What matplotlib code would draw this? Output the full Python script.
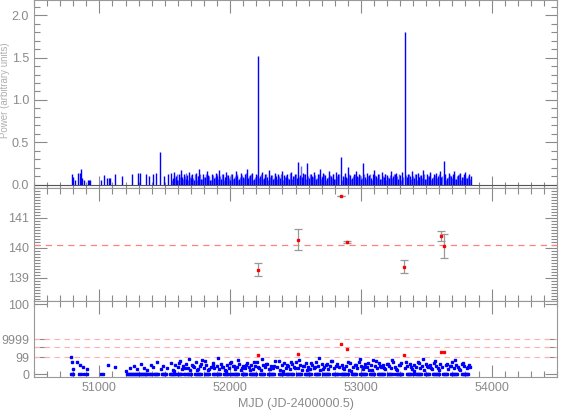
import matplotlib
matplotlib.use("Agg")
import matplotlib.pyplot as plt
from matplotlib.ticker import MultipleLocator, FixedLocator

plt.rcParams["font.family"] = ["Liberation Sans", "DejaVu Sans"]
plt.rcParams["font.size"] = 9

GREY = "#8a8a8a"
BLUE = "#0000ff"
LBLUE = "#6a6aff"
RED = "#ff0000"

# ---- top panel: amplitude per night (MJD, height) ----
bar_mjd = [50790, 50800, 50810, 50840, 50848, 50860, 50868, 50882, 50910, 50920,
           50930, 51015, 51038, 51062, 51070, 51085, 51120, 51175, 51250, 51295,
           51310, 51355, 51380, 51410, 51430, 51466, 51495, 51525, 51550, 51562,
           51574, 51585, 51597, 51610, 51622, 51633, 51646, 51660, 51672, 51684,
           51697, 51710, 51725, 51740, 51752, 51765, 51780, 51795, 51808, 51820,
           51834, 51848, 51862, 51876, 51890, 51903, 51917, 51930, 51944, 51958,
           51972, 51986, 52000, 52014, 52028, 52042, 52056, 52070, 52084, 52098,
           52112, 52126, 52140, 52154, 52168, 52182, 52196, 52214, 52228, 52242,
           52256, 52270, 52284, 52298, 52312, 52326, 52340, 52354, 52368, 52382,
           52396, 52410, 52424, 52438, 52452, 52466, 52480, 52494, 52508, 52519,
           52533, 52547, 52561, 52575, 52587, 52601, 52615, 52629, 52643, 52657,
           52671, 52685, 52699, 52713, 52727, 52741, 52755, 52769, 52783, 52797,
           52811, 52825, 52847, 52861, 52875, 52889, 52903, 52917, 52931, 52945,
           52959, 52973, 52987, 53001, 53020, 53034, 53048, 53062, 53076, 53090,
           53104, 53118, 53132, 53146, 53160, 53174, 53188, 53202, 53216, 53230,
           53244, 53258, 53272, 53286, 53300, 53314, 53336, 53350, 53364, 53378,
           53392, 53406, 53420, 53434, 53448, 53462, 53476, 53490, 53504, 53518,
           53532, 53546, 53560, 53574, 53588, 53602, 53616, 53632, 53646, 53660,
           53674, 53688, 53702, 53716, 53730, 53744, 53758, 53772, 53786, 53800,
           53814, 53828, 53840]
bar_h = [0.13, 0.09, 0.05, 0.14, 0.14, 0.18, 0.08, 0.06, 0.06, 0.06,
         0.05, 0.06, 0.11, 0.08, 0.08, 0.08, 0.12, 0.10, 0.12, 0.14,
         0.14, 0.12, 0.10, 0.13, 0.14, 0.38, 0.10, 0.13, 0.14, 0.08,
         0.15, 0.10, 0.06, 0.12, 0.17, 0.09, 0.13, 0.07, 0.11, 0.15,
         0.08, 0.12, 0.06, 0.14, 0.10, 0.18, 0.07, 0.12, 0.09, 0.16,
         0.11, 0.06, 0.13, 0.08, 0.14, 0.10, 0.17, 0.07, 0.12, 0.09,
         0.15, 0.11, 0.06, 0.13, 0.08, 0.16, 0.10, 0.07, 0.14, 0.09,
         0.12, 0.18, 0.08, 0.11, 0.14, 0.07, 0.12, 1.52, 0.10, 0.15,
         0.08, 0.13, 0.09, 0.17, 0.11, 0.07, 0.14, 0.10, 0.12, 0.08,
         0.16, 0.11, 0.09, 0.13, 0.07, 0.15, 0.10, 0.12, 0.08, 0.27,
         0.11, 0.09, 0.14, 0.12, 0.26, 0.08, 0.13, 0.10, 0.15, 0.07,
         0.12, 0.18, 0.09, 0.14, 0.11, 0.08, 0.16, 0.10, 0.13, 0.07,
         0.15, 0.12, 0.33, 0.10, 0.14, 0.09, 0.21, 0.11, 0.08, 0.13,
         0.16, 0.10, 0.12, 0.07, 0.26, 0.09, 0.14, 0.11, 0.08, 0.13,
         0.17, 0.10, 0.12, 0.07, 0.15, 0.09, 0.13, 0.11, 0.08, 0.16,
         0.10, 0.12, 0.14, 0.07, 0.11, 0.15, 1.80, 0.09, 0.13, 0.10,
         0.16, 0.08, 0.12, 0.14, 0.09, 0.11, 0.17, 0.07, 0.13, 0.10,
         0.15, 0.08, 0.12, 0.14, 0.10, 0.16, 0.09, 0.28, 0.12, 0.08,
         0.14, 0.10, 0.13, 0.16, 0.07, 0.11, 0.14, 0.09, 0.12, 0.15,
         0.08, 0.13, 0.10]
# in-between nights, drawn in the lighter blue
bar_mjd_b = [51556, 51568, 51580, 51591, 51603, 51616, 51628, 51640, 51653, 51666,
             51678, 51690, 51703, 51717, 51732, 51746, 51758, 51772, 51788, 51801,
             51814, 51827, 51841, 51855, 51869, 51883, 51896, 51910, 51923, 51937,
             51951, 51965, 51979, 51993, 52007, 52021, 52035, 52049, 52063, 52077,
             52091, 52105, 52119, 52133, 52147, 52161, 52175, 52189, 52205, 52221,
             52235, 52249, 52263, 52277, 52291, 52305, 52319, 52333, 52347, 52361,
             52375, 52389, 52403, 52417, 52431, 52445, 52459, 52473, 52487, 52501,
             52513, 52526, 52540, 52554, 52568, 52581, 52594, 52608, 52622, 52636,
             52650, 52664, 52678, 52692, 52706, 52720, 52734, 52748, 52762, 52776,
             52790, 52804, 52818, 52836, 52854, 52868, 52882, 52896, 52910, 52924,
             52938, 52952, 52966, 52980, 52994, 53010, 53027, 53041, 53055, 53069,
             53083, 53097, 53111, 53125, 53139, 53153, 53167, 53181, 53195, 53209,
             53223, 53237, 53251, 53265, 53279, 53293, 53307, 53322, 53343, 53357,
             53371, 53385, 53399, 53413, 53427, 53441, 53455, 53469, 53483, 53497,
             53511, 53525, 53539, 53553, 53567, 53581, 53595, 53609, 53624, 53639,
             53653, 53667, 53681, 53695, 53709, 53723, 53737, 53751, 53765, 53779,
             53793, 53807, 53821, 53834]
bar_h_b = [0.06, 0.11, 0.08, 0.13, 0.05, 0.09, 0.12, 0.07, 0.10, 0.14,
           0.06, 0.09, 0.11, 0.08, 0.12, 0.05, 0.10, 0.13, 0.07, 0.09,
           0.12, 0.08, 0.10, 0.06, 0.11, 0.09, 0.13, 0.07, 0.10, 0.12,
           0.06, 0.09, 0.11, 0.08, 0.13, 0.07, 0.10, 0.12, 0.06, 0.09,
           0.11, 0.08, 0.14, 0.07, 0.10, 0.12, 0.06, 0.09, 0.11, 0.08,
           0.13, 0.07, 0.10, 0.12, 0.06, 0.09, 0.11, 0.08, 0.13, 0.07,
           0.10, 0.12, 0.06, 0.09, 0.11, 0.08, 0.14, 0.07, 0.10, 0.12,
           0.06, 0.09, 0.22, 0.08, 0.13, 0.07, 0.10, 0.12, 0.06, 0.09,
           0.11, 0.08, 0.13, 0.07, 0.10, 0.12, 0.06, 0.09, 0.11, 0.08,
           0.13, 0.07, 0.10, 0.12, 0.06, 0.09, 0.11, 0.08, 0.13, 0.07,
           0.10, 0.12, 0.06, 0.09, 0.11, 0.08, 0.13, 0.07, 0.10, 0.12,
           0.06, 0.09, 0.11, 0.08, 0.13, 0.07, 0.10, 0.12, 0.06, 0.09,
           0.11, 0.08, 0.13, 0.07, 0.10, 0.12, 0.06, 0.09, 0.11, 0.08,
           0.13, 0.07, 0.10, 0.12, 0.06, 0.09, 0.11, 0.08, 0.13, 0.07,
           0.10, 0.12, 0.06, 0.09, 0.11, 0.08, 0.13, 0.07, 0.10, 0.12,
           0.06, 0.09, 0.11, 0.08, 0.13, 0.07, 0.10, 0.12, 0.06, 0.09,
           0.11, 0.08, 0.10, 0.07]

# ---- middle panel: period estimates ----
per_mjd = [52214, 52519, 52847, 52893, 53328, 53611, 53634]
per_val = [139.27, 140.27, 141.73, 140.20, 139.37, 140.40, 140.07]
per_err = [0.22, 0.35, 0.0, 0.03, 0.22, 0.17, 0.40]
per_mean = 140.1

# ---- bottom panel: flag levels (0 = none) ----
zero_mjd = [50786, 50794, 50802, 50846, 50862, 50886, 50908, 51015, 51031, 51210,
            51218, 51225, 51232, 51240, 51248, 51256, 51263, 51270, 51278, 51286,
            51293, 51300, 51308, 51316, 51323, 51330, 51338, 51346, 51353, 51360,
            51368, 51376, 51384, 51392, 51420, 51428, 51436, 51444, 51452, 51480,
            51488, 51497, 51504, 51512, 51540, 51548, 51556, 51564, 51572, 51580,
            51590, 51598, 51606, 51614, 51622, 51650, 51658, 51668, 51676, 51684,
            51692, 51700, 51730, 51738, 51746, 51754, 51762, 51770, 51778, 51810,
            51818, 51826, 51834, 51842, 51872, 51880, 51888, 51896, 51904, 51912,
            51920, 51950, 51958, 51966, 51974, 51982, 52010, 52018, 52026, 52034,
            52042, 52050, 52058, 52090, 52098, 52106, 52114, 52122, 52150, 52158,
            52166, 52174, 52182, 52190, 52198, 52230, 52238, 52246, 52254, 52262,
            52290, 52298, 52306, 52314, 52322, 52330, 52338, 52370, 52378, 52386,
            52394, 52402, 52430, 52438, 52446, 52454, 52462, 52470, 52478, 52510,
            52518, 52526, 52534, 52542, 52570, 52578, 52586, 52594, 52602, 52610,
            52618, 52650, 52658, 52666, 52674, 52682, 52710, 52718, 52726, 52734,
            52742, 52750, 52758, 52790, 52798, 52806, 52814, 52822, 52850, 52858,
            52866, 52874, 52882, 52890, 52898, 52930, 52938, 52946, 52954, 52962,
            52990, 52998, 53006, 53014, 53022, 53030, 53038, 53070, 53078, 53086,
            53094, 53102, 53130, 53138, 53146, 53154, 53162, 53170, 53178, 53210,
            53218, 53226, 53234, 53242, 53270, 53278, 53286, 53294, 53302, 53310,
            53318, 53350, 53358, 53366, 53374, 53382, 53410, 53418, 53426, 53434,
            53442, 53450, 53458, 53490, 53498, 53506, 53514, 53522, 53550, 53558,
            53566, 53574, 53582, 53590, 53598, 53630, 53638, 53646, 53654, 53662,
            53690, 53698, 53706, 53714, 53722, 53730, 53738, 53770, 53778, 53786,
            53794, 53802, 53810, 53818]
flag_mjd = [50786, 50794, 50802, 50832, 50855, 50878, 50908, 51069, 51122, 51200,
            51232, 51262, 51290, 51318, 51338, 51366, 51398, 51412, 51444, 51470,
            51488, 51520, 51548, 51566, 51580, 51598, 51614, 51630, 51642, 51660,
            51676, 51692, 51708, 51722, 51738, 51754, 51770, 51786, 51800, 51818,
            51834, 51850, 51866, 51880, 51896, 51912, 51928, 51942, 51958, 51974,
            51990, 52004, 52020, 52036, 52050, 52066, 52082, 52098, 52114, 52130,
            52144, 52160, 52176, 52190, 52206, 52222, 52238, 52254, 52270, 52284,
            52300, 52316, 52330, 52346, 52362, 52378, 52394, 52410, 52424, 52440,
            52456, 52472, 52488, 52502, 52518, 52534, 52550, 52564, 52580, 52596,
            52612, 52626, 52642, 52658, 52674, 52690, 52704, 52720, 52736, 52752,
            52766, 52782, 52798, 52814, 52830, 52858, 52874, 52890, 52906, 52920,
            52936, 52952, 52968, 52984, 52998, 53014, 53030, 53046, 53060, 53076,
            53092, 53108, 53124, 53138, 53154, 53170, 53186, 53200, 53216, 53232,
            53248, 53264, 53280, 53294, 53310, 53340, 53356, 53372, 53388, 53404,
            53418, 53434, 53450, 53466, 53482, 53496, 53512, 53528, 53544, 53560,
            53574, 53590, 53606, 53622, 53650, 53666, 53682, 53698, 53712, 53728,
            53744, 53760, 53776, 53792, 53808, 53824, 53838]
flag_val = [17, 12, 5, 12, 9, 7, 5, 9, 7, 3,
            6, 8, 5, 10, 6, 4, 9, 7, 12, 5,
            8, 6, 11, 4, 9, 7, 13, 5, 8, 10,
            6, 4, 9, 7, 12, 5, 8, 14, 6, 9,
            4, 7, 11, 6, 8, 5, 10, 7, 4, 9,
            6, 12, 8, 5, 7, 10, 4, 8, 6, 11,
            7, 9, 5, 8, 12, 6, 4, 9, 7, 10,
            5, 8, 6, 13, 7, 4, 9, 11, 6, 8,
            5, 10, 7, 12, 6, 9, 4, 8, 11, 7,
            5, 9, 6, 12, 8, 4, 10, 7, 9, 5,
            8, 13, 6, 10, 7, 9, 5, 8, 4, 11,
            7, 9, 6, 12, 8, 5, 10, 7, 4, 9,
            14, 8, 6, 11, 7, 9, 5, 10, 8, 6,
            12, 7, 4, 9, 11, 6, 8, 10, 5, 9,
            7, 12, 6, 8, 4, 10, 7, 9, 5, 11,
            8, 6, 10, 7, 9, 5, 8, 12, 6, 9,
            7, 4, 10, 8, 6, 9, 7]
flag_mjd_b = [51574, 51606, 51652, 51684, 51716, 51746, 51778, 51810, 51842, 51872,
              51904, 51936, 51966, 51998, 52028, 52058, 52090, 52122, 52152, 52184,
              52214, 52246, 52276, 52308, 52338, 52370, 52402, 52432, 52464, 52494,
              52526, 52556, 52588, 52618, 52650, 52680, 52712, 52744, 52774, 52806,
              52866, 52898, 52928, 52960, 52990, 53022, 53052, 53084, 53116, 53146,
              53178, 53208, 53240, 53272, 53302, 53348, 53380, 53410, 53442, 53474,
              53504, 53536, 53566, 53598, 53658, 53690, 53720, 53752, 53784, 53816]
flag_val_b = [3, 11, 6, 15, 8, 4, 10, 13, 5, 9,
              16, 7, 3, 11, 8, 14, 6, 9, 4, 12,
              7, 15, 10, 5, 8, 13, 3, 9, 12, 6,
              14, 8, 4, 11, 7, 16, 5, 10, 13, 8,
              6, 12, 3, 9, 15, 7, 11, 4, 13, 8,
              6, 10, 14, 5, 9, 12, 7, 3, 11, 15,
              8, 6, 13, 4, 10, 8, 14, 5, 11, 7]
red_mjd = [52214, 52519, 52847, 52893, 53328, 53611, 53634]
red_val = [19, 20, 30, 25, 19, 22, 22]
level_lines = [17, 27, 35]
level_ticks = [0, 17, 35, 70]
level_labels = ["0", "99", "9999", "100"]

fig = plt.figure(figsize=(5.68, 4.19), dpi=100)
L, W = 34 / 568, 523 / 568
ax1 = fig.add_axes([L, 1 - 188 / 419, W, 188 / 419])
ax2 = fig.add_axes([L, 1 - 301 / 419, W, 113 / 419])
ax3 = fig.add_axes([L, 1 - 377 / 419, W, 76 / 419])

for ax in (ax1, ax2, ax3):
    ax.set_xlim(50500, 54500)
    ax.xaxis.set_major_locator(MultipleLocator(1000))
    ax.xaxis.set_minor_locator(MultipleLocator(100))
    ax.tick_params(which="both", direction="in", top=True, right=True,
                   colors=GREY, labelcolor=GREY, width=0.8)
    ax.tick_params(which="major", length=9)
    ax.tick_params(which="minor", length=4)
    for s in ax.spines.values():
        s.set_color("#999999")
        s.set_linewidth(0.8)
    if ax is not ax3:
        ax.tick_params(labelbottom=False)
ax1.spines["bottom"].set_color("#555555")
ax2.spines["bottom"].set_color("#555555")

# top
ax1.vlines(bar_mjd_b, 0, bar_h_b, color=LBLUE, lw=1.0)
ax1.vlines(bar_mjd, 0, bar_h, color=BLUE, lw=1.0)
ax1.axhline(0, color="#555555", lw=0.8)
ax1.set_ylim(-0.04, 2.18)
ax1.yaxis.set_major_locator(MultipleLocator(0.5))
ax1.yaxis.set_minor_locator(MultipleLocator(0.1))
ax1.yaxis.set_major_formatter(plt.FormatStrFormatter("%.1f"))
fig.text(0.009, 0.785, "Power (arbitrary units)", rotation=90, color="#b0b0b0",
         ha="center", va="center", fontsize=7)

# middle
ax2.axhline(per_mean, color="#ff8080", ls=(0, (5, 4)), lw=0.9)
ax2.errorbar(per_mjd, per_val, yerr=per_err, fmt="none", ecolor="#999999",
             elinewidth=0.9, capsize=3, capthick=0.9)
ax2.plot(per_mjd, per_val, "s", color=RED, ms=2.0, mec=RED)
ax2.set_ylim(138.23, 142.0)
ax2.yaxis.set_major_locator(FixedLocator([139, 140, 141]))
ax2.yaxis.set_minor_locator(MultipleLocator(0.1))
ax2.tick_params(axis="y", which="major", length=9)

# bottom
for lv in level_lines:
    ax3.axhline(lv, color="#ffb0b0", ls=(0, (5, 4)), lw=0.8)
ax3.plot(zero_mjd, [0] * len(zero_mjd), "s", color=BLUE, ms=1.6, mec=BLUE)
ax3.plot(flag_mjd, flag_val, "s", color=BLUE, ms=1.6, mec=BLUE)
ax3.plot(flag_mjd_b, flag_val_b, "s", color=BLUE, ms=1.6, mec=BLUE)
ax3.plot(red_mjd, red_val, "s", color=RED, ms=1.6, mec=RED)
ax3.set_ylim(-3, 73)
ax3.yaxis.set_major_locator(FixedLocator(level_ticks))
ax3.set_yticklabels(level_labels)
ax3.yaxis.set_minor_locator(FixedLocator([27]))
ax3.tick_params(axis="y", which="minor", length=9)
ax3.set_xlabel("MJD (JD-2400000.5)", color=GREY, labelpad=3)

fig.savefig("out.png", dpi=100)
